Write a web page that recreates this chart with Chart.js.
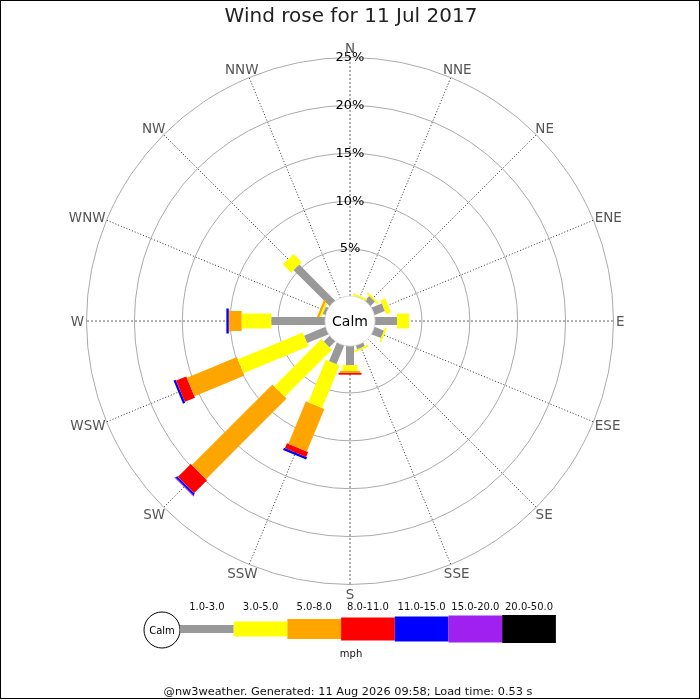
<!DOCTYPE html>
<html>
<head>
<meta charset="utf-8">
<title>Wind rose for 11 Jul 2017</title>
<script src="https://cdn.jsdelivr.net/npm/chart.js@4.4.1/dist/chart.umd.min.js"></script>
<style>
  html, body { margin: 0; padding: 0; background: #fff; }
  #wrap { width: 700px; height: 700px; }
</style>
</head>
<body>
<div id="wrap"><canvas id="rose" width="700" height="700"></canvas></div>
<script>
// Data
const directions = ['N', 'NNE', 'NE', 'ENE', 'E', 'ESE', 'SE', 'SSE',
  'S', 'SSW', 'SW', 'WSW', 'W', 'WNW', 'NW', 'NNW'];
const speedBands = ['1.0-3.0', '3.0-5.0', '5.0-8.0', '8.0-11.0', '11.0-15.0', '15.0-20.0', '20.0-50.0'];
const percentTicks = [5, 10, 15, 20, 25];

// % of the day, per direction, for each speed band (mph)
const band1to3 = [0, 0.1, 0.75, 1.25, 2.4, 1.15, 0, 0.5, 2.1, 2.2, 0.95, 2.5, 5.7, 0.4, 5.4, 0];
const band3to5 = [0, 0.2, 0.2, 0.55, 1.25, 0.2, 0, 0.2, 0.6, 4.8, 6.95, 7.35, 3.1, 0.2, 1.2, 0];
const band5to8 = [0, 0, 0, 0, 0, 0, 0, 0, 0.2, 4.8, 11.9, 5.65, 1.3, 0.25, 0, 0];
const band8to11 = [0, 0, 0, 0, 0, 0, 0, 0, 0.2, 0.55, 1.9, 1.15, 0.05, 0, 0, 0];
const band11to15 = [0, 0, 0, 0, 0, 0, 0, 0, 0, 0.25, 0.2, 0.25, 0.25, 0, 0, 0];
const band15to20 = [0, 0, 0, 0, 0, 0, 0, 0, 0, 0, 0.1, 0, 0, 0, 0, 0];
const band20to50 = [0, 0, 0, 0, 0, 0, 0, 0, 0, 0, 0, 0, 0, 0, 0, 0];

// Styles
const bandColours = ['#999999', '#ffff00', '#ffa500', '#ff0000', '#0000ff', '#a020f0', '#000000'];
const bandWidths = [8, 15, 20, 23, 25, 27, 28];
const FONT = '"DejaVu Sans", sans-serif';

// scale: pixels per 1 %, and the hole left for the calm circle
const PX = 9.58;
const HOLE = 24 / PX;
const CX = 350;
const CY = 321;

const bands = [band1to3, band3to5, band5to8, band8to11, band11to15, band15to20, band20to50];

// one thick line per stacked segment, running outward along its direction
const datasets = [];
directions.forEach((dir, i) => {
  const a = i * Math.PI / 8;
  let r = HOLE;
  bands.forEach((vals, b) => {
    const v = vals[i];
    if (!v) return;
    const r2 = r + v;
    datasets.push({
      label: speedBands[b] + ' ' + dir,
      data: [
        { x: r * Math.sin(a), y: r * Math.cos(a) },
        { x: r2 * Math.sin(a), y: r2 * Math.cos(a) },
      ],
      showLine: true,
      borderColor: bandColours[b],
      borderWidth: bandWidths[b],
      borderCapStyle: 'butt',
      borderJoinStyle: 'bevel',
      tension: 0.0001, // keeps chart.js off its fast path (no spikes on tiny segments)
      pointRadius: 0,
      fill: false,
    });
    r = r2;
  });
});

const rosePlugin = {
  id: 'rose',
  beforeDatasetsDraw(chart) {
    const { ctx } = chart;
    const xs = chart.scales.x;
    const ys = chart.scales.y;
    const cx = xs.getPixelForValue(0);
    const cy = ys.getPixelForValue(0);
    const k = xs.getPixelForValue(1) - cx;
    ctx.save();
    // rings
    ctx.strokeStyle = '#aaaaaa';
    ctx.lineWidth = 1;
    percentTicks.forEach((t) => {
      ctx.beginPath();
      ctx.arc(cx, cy, (HOLE + t) * k, 0, Math.PI * 2);
      ctx.stroke();
    });
    // spokes
    const outer = (HOLE + percentTicks[percentTicks.length - 1]) * k;
    directions.forEach((d, i) => {
      const a = i * Math.PI / 8;
      ctx.strokeStyle = i % 4 === 0 ? '#666666' : '#333333';
      ctx.setLineDash(i % 4 === 0 ? [2, 2] : [1, 2]);
      ctx.beginPath();
      ctx.moveTo(cx + 25 * Math.sin(a), cy - 25 * Math.cos(a));
      ctx.lineTo(cx + outer * Math.sin(a), cy - outer * Math.cos(a));
      ctx.stroke();
    });
    ctx.restore();
  },
  afterDatasetsDraw(chart) {
    const { ctx } = chart;
    const xs = chart.scales.x;
    const ys = chart.scales.y;
    const cx = xs.getPixelForValue(0);
    const cy = ys.getPixelForValue(0);
    const k = xs.getPixelForValue(1) - cx;
    ctx.save();
    // calm circle
    ctx.beginPath();
    ctx.arc(cx, cy, 25, 0, Math.PI * 2);
    ctx.fillStyle = '#ffffff';
    ctx.fill();
    ctx.strokeStyle = '#dddddd';
    ctx.stroke();
    ctx.fillStyle = '#000000';
    ctx.font = '14px ' + FONT;
    ctx.textAlign = 'center';
    ctx.textBaseline = 'middle';
    ctx.fillText('Calm', cx, cy + 1);
    // percent labels
    ctx.font = '13px ' + FONT;
    percentTicks.forEach((t) => {
      ctx.fillText(t + '%', cx, cy - (HOLE + t) * k);
    });
    // direction labels, inner edge of text kept at a fixed radius
    ctx.fillStyle = '#555555';
    ctx.font = '13.5px ' + FONT;
    directions.forEach((d, i) => {
      const a = i * Math.PI / 8;
      const sx = Math.sin(a);
      const sy = -Math.cos(a);
      const hw = ctx.measureText(d).width / 2;
      ctx.fillText(d, cx + 266 * sx + hw * sx, cy + 266 * sy + 7 * sy + 1.5);
    });
    ctx.restore();
  },
  afterDraw(chart) {
    const { ctx } = chart;
    ctx.save();
    ctx.textAlign = 'center';
    ctx.textBaseline = 'middle';
    // title
    ctx.fillStyle = '#222222';
    ctx.font = '20px ' + FONT;
    ctx.fillText('Wind rose for 11 Jul 2017', 351, 17);
    // legend
    ctx.beginPath();
    ctx.arc(162, 630, 18, 0, Math.PI * 2);
    ctx.fillStyle = '#ffffff';
    ctx.fill();
    ctx.strokeStyle = '#000000';
    ctx.lineWidth = 1;
    ctx.stroke();
    ctx.fillStyle = '#000000';
    ctx.font = '10px ' + FONT;
    ctx.fillText('Calm', 162, 631);
    const w = 53.7;
    speedBands.forEach((lab, b) => {
      const x0 = 180 + b * w;
      const h = bandWidths[b];
      ctx.fillStyle = bandColours[b];
      ctx.fillRect(x0, 629 - h / 2, w, h);
      ctx.fillStyle = '#111111';
      ctx.fillText(lab, x0 + w / 2, 607);
    });
    ctx.fillText('mph', 351, 654);
    ctx.font = '11.3px ' + FONT;
    ctx.fillText('@nw3weather. Generated: 11 Aug 2026 09:58; Load time: 0.53 s', 348, 692);
    // frame
    ctx.strokeStyle = '#000000';
    ctx.strokeRect(0.5, 0.5, 699, 698);
    ctx.restore();
  },
};

const config = {
  type: 'scatter',
  data: { datasets },
  options: {
    responsive: false,
    devicePixelRatio: 1,
    animation: false,
    events: [],
    layout: { padding: 0 },
    plugins: {
      legend: { display: false },
      title: { display: false },
      tooltip: { enabled: false },
    },
    scales: {
      x: { type: 'linear', display: false, min: -CX / PX, max: (700 - CX) / PX },
      y: { type: 'linear', display: false, min: -(700 - CY) / PX, max: CY / PX },
    },
  },
  plugins: [rosePlugin],
};

const roseChart = new Chart(document.getElementById('rose'), config);
</script>
</body>
</html>
